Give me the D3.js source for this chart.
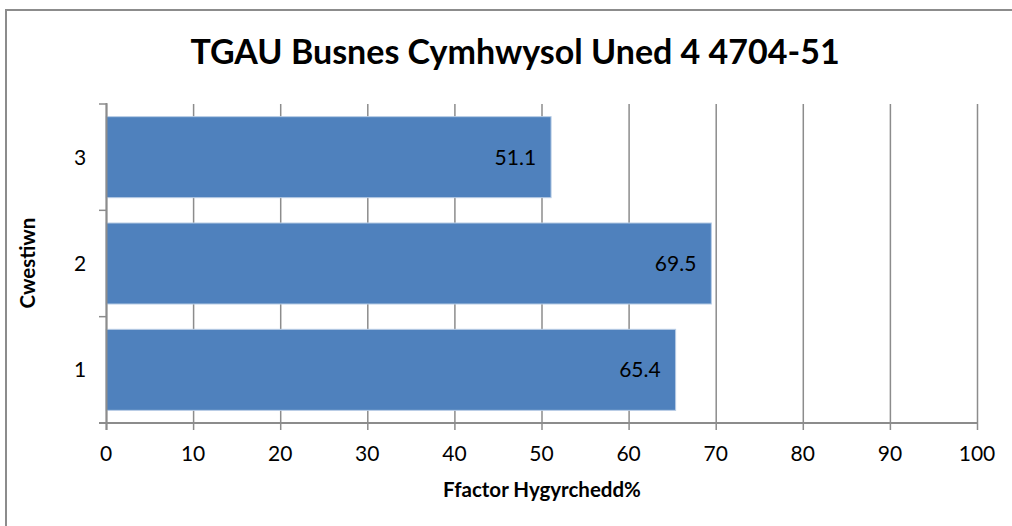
<!DOCTYPE html>
<meta charset="utf-8">
<style>
  body { margin: 0; background: #fff; }
  text { font-family: "Lato", "Open Sans", sans-serif; }
</style>
<body>
<script src="https://cdn.jsdelivr.net/npm/d3@7"></script>
<script>

    var categories = ["1", "2", "3"];
    var values = [65.4, 69.5, 51.1];
    var xTicks = [0, 10, 20, 30, 40, 50, 60, 70, 80, 90, 100];

    var width = 1012,
        height = 526;

    var svg = d3.select("body").append("svg")
            .attr("width", width)
            .attr("height", height);

    // chart frame (only top and left edges are in view)
    svg.append("path")
            .attr("d", "M6,526V10H1012")
            .attr("fill", "none")
            .attr("stroke", "#8c8c8c")
            .attr("stroke-width", 2);

    var x = d3.scaleLinear().domain([0, 100]).range([106, 977]);
    var y = d3.scaleBand().domain(categories.slice().reverse())
            .range([104, 423]).paddingInner(0.238).paddingOuter(0.119);

    var gridColor = "#8c8c8c";

    // vertical gridlines + tick marks below axis
    svg.append("g").selectAll("line").data(xTicks).enter().append("line")
            .attr("x1", function(d) { return x(d) + 0.5; })
            .attr("x2", function(d) { return x(d) + 0.5; })
            .attr("y1", 104)
            .attr("y2", 430)
            .attr("stroke", gridColor)
            .attr("stroke-width", 1.5);

    // x axis line
    svg.append("line")
            .attr("x1", 99).attr("x2", x(100) + 1)
            .attr("y1", 423).attr("y2", 423)
            .attr("stroke", gridColor).attr("stroke-width", 2);

    // y axis ticks at band boundaries
    var step = y.step();
    var bounds = [104, 104 + step, 104 + 2 * step];
    svg.append("g").selectAll("line").data(bounds).enter().append("line")
            .attr("x1", 99).attr("x2", 106)
            .attr("y1", function(d) { return d; })
            .attr("y2", function(d) { return d; })
            .attr("stroke", gridColor).attr("stroke-width", 1.5);

    // bars
    svg.append("g").selectAll("rect").data(values).enter().append("rect")
            .attr("x", x(0))
            .attr("y", function(d, i) { return y(categories[i]); })
            .attr("width", function(d) { return x(d) - x(0); })
            .attr("height", y.bandwidth())
            .attr("fill", "#4f81bd")
            .attr("stroke", "#b9cde5")
            .attr("stroke-width", 1);

    // y axis line
    svg.append("line")
            .attr("x1", 106.5).attr("x2", 106.5)
            .attr("y1", 103).attr("y2", 430)
            .attr("stroke", gridColor).attr("stroke-width", 2);

    // value labels
    svg.append("g").selectAll("text").data(values).enter().append("text")
            .attr("x", function(d) { return x(d) - 15; })
            .attr("y", function(d, i) { return y(categories[i]) + y.bandwidth() / 2; })
            .attr("dy", "0.35em")
            .attr("text-anchor", "end")
            .attr("font-size", 21)
            .attr("fill", "#000")
            .text(function(d) { return d.toFixed(1); });

    // category labels
    svg.append("g").selectAll("text").data(categories).enter().append("text")
            .attr("x", 80)
            .attr("y", function(d) { return y(d) + y.bandwidth() / 2; })
            .attr("dy", "0.35em")
            .attr("text-anchor", "middle")
            .attr("font-size", 21)
            .text(function(d) { return d; });

    // x tick labels
    svg.append("g").selectAll("text").data(xTicks).enter().append("text")
            .attr("x", function(d) { return x(d); })
            .attr("y", 454)
            .attr("dy", "0.35em")
            .attr("text-anchor", "middle")
            .attr("font-size", 21)
            .text(function(d) { return d; });

    // titles
    svg.append("text")
            .attr("x", 515).attr("y", 52).attr("dy", "0.35em")
            .attr("text-anchor", "middle")
            .attr("font-size", 34).attr("font-weight", "bold")
            .text("TGAU Busnes Cymhwysol Uned 4 4704-51");

    svg.append("text")
            .attr("x", 542).attr("y", 490).attr("dy", "0.35em")
            .attr("text-anchor", "middle")
            .attr("font-size", 20.5).attr("font-weight", "bold")
            .text("Ffactor Hygyrchedd%");

    svg.append("text")
            .attr("transform", "translate(28,263) rotate(-90)")
            .attr("dy", "0.35em")
            .attr("text-anchor", "middle")
            .attr("font-size", 20.5).attr("font-weight", "bold")
            .text("Cwestiwn");

</script>
